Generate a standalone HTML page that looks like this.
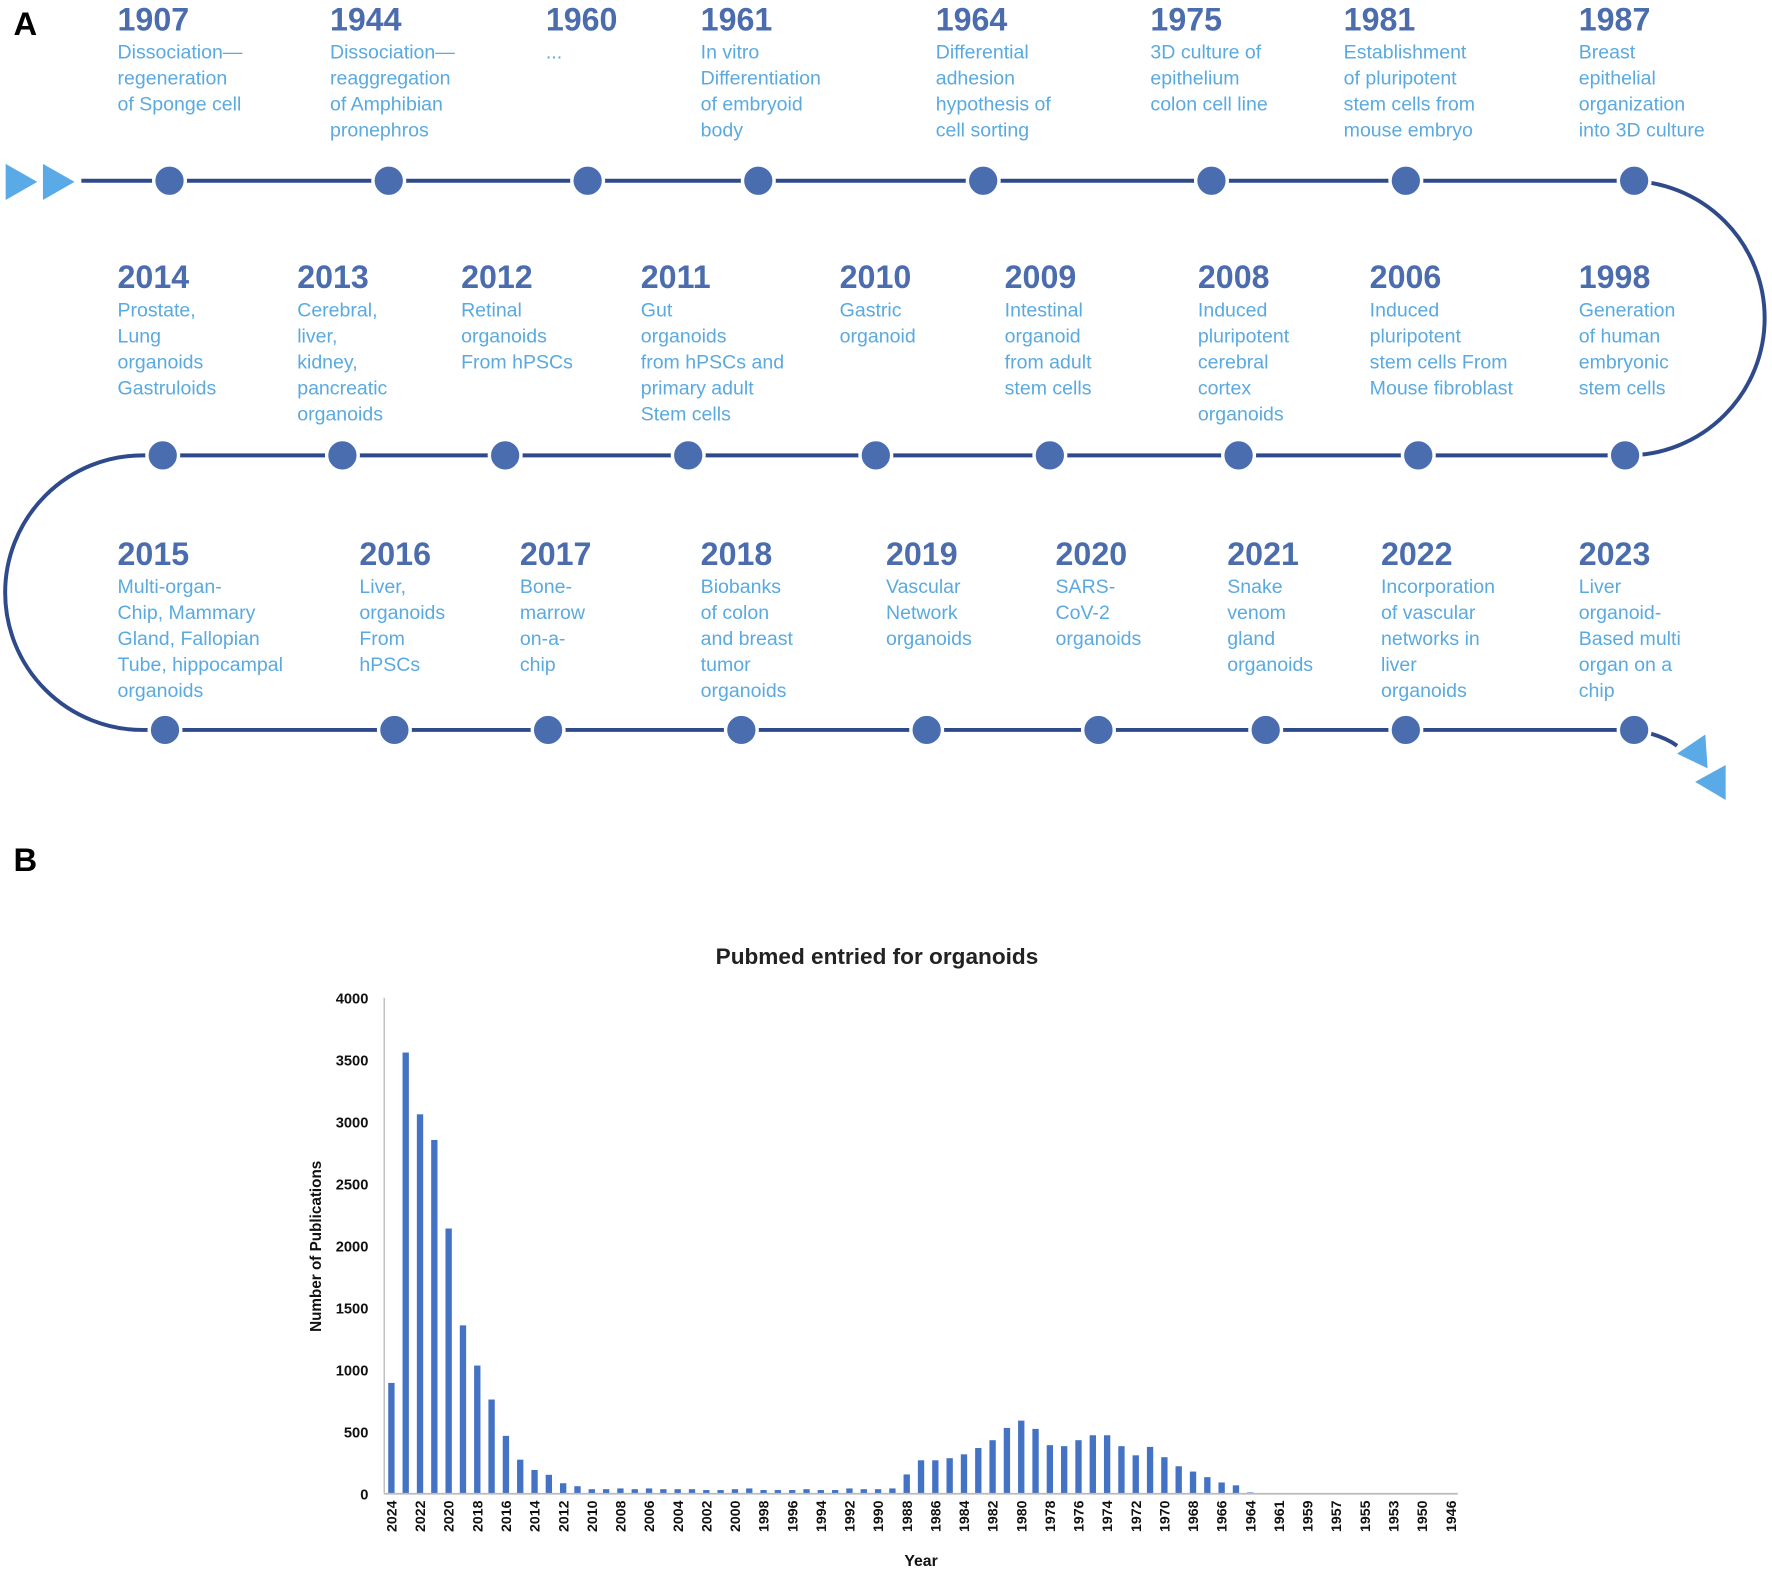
<!DOCTYPE html>
<html><head><meta charset="utf-8"><style>
html,body{margin:0;padding:0;background:#fff;}
svg{display:block;}
</style></head><body>
<svg id="root" width="1772" height="1574" viewBox="0 0 1568 1393" preserveAspectRatio="none" xmlns="http://www.w3.org/2000/svg" font-family="Liberation Sans, sans-serif">
<text x="12" y="31" font-size="29" font-weight="bold" fill="#000">A</text>
<text x="12" y="771" font-size="29" font-weight="bold" fill="#000">B</text>
<g id="timeline">
<polygon points="5,145 33,161 5,177" fill="#5aaae8"/>
<polygon points="38,145 66,161 38,177" fill="#5aaae8"/>
<path d="M72 160 L1440 160 A121 121 0 0 1 1440 403 L126 403 A121.5 121.5 0 0 0 126 646 L1446 646 Q1470 650 1484 660" fill="none" stroke="#2f4a8a" stroke-width="3.5"/>
<polygon points="1484,667 1509,650 1511,680" fill="#5aaae8"/>
<polygon points="1500,692 1527,677 1527,708" fill="#5aaae8"/>
</g>
<g id="chart"></g>
</svg>
<script>
var NS="http://www.w3.org/2000/svg";
function mk(tag,attrs,parent){var e=document.createElementNS(NS,tag);for(var k in attrs)e.setAttribute(k,attrs[k]);parent.appendChild(e);return e;}
var tl=document.getElementById('timeline');
var rows=[
 {y:160,ty:27,items:[[150,104,"1907",["Dissociation—","regeneration","of Sponge cell"]],[344,292,"1944",["Dissociation—","reaggregation","of Amphibian","pronephros"]],[520,483,"1960",["..."]],[671,620,"1961",["In vitro","Differentiation","of embryoid","body"]],[870,828,"1964",["Differential","adhesion","hypothesis of","cell sorting"]],[1072,1018,"1975",["3D culture of","epithelium","colon cell line"]],[1244,1189,"1981",["Establishment","of pluripotent","stem cells from","mouse embryo"]],[1446,1397,"1987",["Breast","epithelial","organization","into 3D culture"]]]},
 {y:403,ty:255,items:[[144,104,"2014",["Prostate,","Lung","organoids","Gastruloids"]],[303,263,"2013",["Cerebral,","liver,","kidney,","pancreatic","organoids"]],[447,408,"2012",["Retinal","organoids","From hPSCs"]],[609,567,"2011",["Gut","organoids","from hPSCs and","primary adult","Stem cells"]],[775,743,"2010",["Gastric","organoid"]],[929,889,"2009",["Intestinal","organoid","from adult","stem cells"]],[1096,1060,"2008",["Induced","pluripotent","cerebral","cortex","organoids"]],[1255,1212,"2006",["Induced","pluripotent","stem cells From","Mouse fibroblast"]],[1438,1397,"1998",["Generation","of human","embryonic","stem cells"]]]},
 {y:646,ty:500,items:[[146,104,"2015",["Multi-organ-","Chip, Mammary","Gland, Fallopian","Tube, hippocampal","organoids"]],[349,318,"2016",["Liver,","organoids","From","hPSCs"]],[485,460,"2017",["Bone-","marrow","on-a-","chip"]],[656,620,"2018",["Biobanks","of colon","and breast","tumor","organoids"]],[820,784,"2019",["Vascular","Network","organoids"]],[972,934,"2020",["SARS-","CoV-2","organoids"]],[1120,1086,"2021",["Snake","venom","gland","organoids"]],[1244,1222,"2022",["Incorporation","of vascular","networks in","liver","organoids"]],[1446,1397,"2023",["Liver","organoid-","Based multi","organ on a","chip"]]]}
];
rows.forEach(function(r){
 r.items.forEach(function(it){
  var c=mk('circle',{cx:it[0],cy:r.y,r:14,fill:'#4a6db0',stroke:'#fff','stroke-width':3},tl);
  
  
  var t=mk('text',{x:it[1],y:r.ty,'font-size':28.5,'font-weight':'bold',fill:'#4b6cad'},tl);
  t.textContent=it[2];
  
  
  var d=mk('text',{x:it[1],'font-size':17.3,fill:'#5aaae0'},tl);
  
  
  it[3].forEach(function(line,i){var s=mk('tspan',{x:it[1],y:r.ty+25+i*23},d);s.textContent=line;});
 });
});
</script>
<script>
var categories=["2024","2023","2022","2021","2020","2019","2018","2017","2016","2015","2014","2013","2012","2011","2010","2009","2008","2007","2006","2005","2004","2003","2002","2001","2000","1999","1998","1997","1996","1995","1994","1993","1992","1991","1990","1989","1988","1987","1986","1985","1984","1983","1982","1981","1980","1979","1978","1977","1976","1975","1974","1973","1972","1971","1970","1969","1968","1967","1966","1965","1964","1962","1961","1960","1959","1958","1957","1956","1955","1954","1953","1951","1950","1948","1946"];
var values=[894,3558,3060,2853,2139,1358,1034,760,467,275,192,153,85,61,37,37,43,37,43,37,37,37,30,30,37,43,30,30,30,37,30,30,43,37,37,43,156,270,270,287,318,369,432,531,590,523,392,384,432,472,472,384,310,378,295,222,179,134,91,68,11,0,0,0,0,0,0,0,0,0,0,0,0,0,0];
var yTicks=[0,500,1000,1500,2000,2500,3000,3500,4000];
var chartTitle="Pubmed entried for organoids";
var g=document.getElementById('chart');
var X0=340,X1=1290,Y0=1322,Y1=883,YMAX=4000;
var step=(X1-X0)/categories.length;
function xs(i){return X0+step*(i+0.5);}
function ys(v){return Y0-(v/YMAX)*(Y0-Y1);}
var tt=mk('text',{x:776,y:853,'text-anchor':'middle','font-size':20,'font-weight':'bold',fill:'#222'},g);
tt.textContent=chartTitle;


var ya=mk('line',{x1:X0,y1:Y1,x2:X0,y2:Y0,stroke:'#bbb','stroke-width':1.2},g);


yTicks.forEach(function(v){
 var t=mk('text',{x:326,y:ys(v)+5,'text-anchor':'end','font-size':13,'font-weight':'bold',fill:'#111'},g);
 t.textContent=v;
 
 
});
var yt=mk('text',{x:0,y:0,transform:'translate(284,1103) rotate(-90)','text-anchor':'middle','font-size':13.5,'font-weight':'bold',fill:'#111'},g);
yt.textContent="Number of Publications";


values.forEach(function(v,i){
 if(v<=0)return;
 var b=mk('rect',{x:xs(i)-2.8,y:ys(v),width:5.6,height:Y0-ys(v),fill:'#4472c4'},g);
 
 
});
var xa=mk('line',{x1:X0,y1:Y0,x2:X1,y2:Y0,stroke:'#bbb','stroke-width':1.5},g);


categories.forEach(function(c,i){
 if(i%2)return;
 var x=xs(i);
 var t=mk('text',{x:0,y:0,transform:'translate('+(x+4.5)+',1328) rotate(-90)','text-anchor':'end','font-size':12.5,'font-weight':'bold',fill:'#111'},g);
 t.textContent=c;
 
 
});
var xt=mk('text',{x:815,y:1386,'text-anchor':'middle','font-size':14,'font-weight':'bold',fill:'#111'},g);
xt.textContent="Year";


</script>
</body></html>
